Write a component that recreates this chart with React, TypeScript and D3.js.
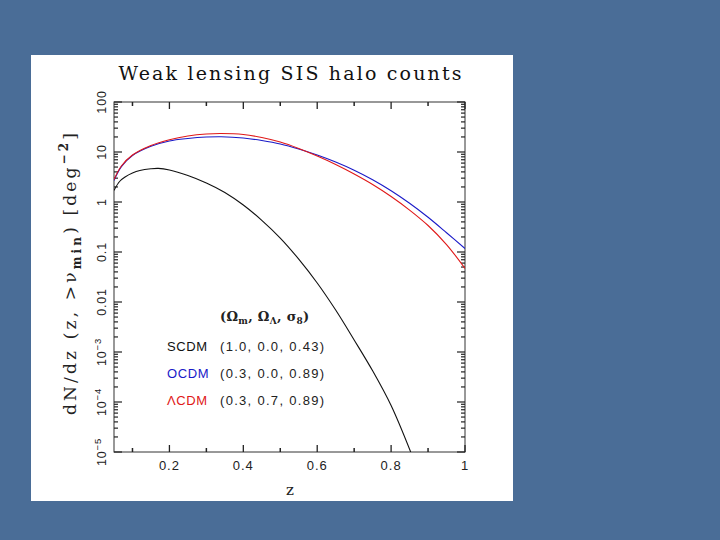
import React from "react";
import * as d3 from "d3";

const zGrid = [0.05, 0.07, 0.1, 0.15, 0.2, 0.25, 0.3, 0.34, 0.4, 0.45, 0.5, 0.55, 0.6, 0.65, 0.7, 0.75, 0.8, 0.85, 0.9, 0.95, 1.0];
const ocdm = [2.7, 5.1, 8.5, 13, 16.6, 18.6, 19.9, 20.2, 19.1, 17, 14.5, 11.5, 8.7, 6.3, 4.32, 2.79, 1.68, 0.944, 0.495, 0.243, 0.117];
const lcdm = [2.8, 5.25, 8.7, 13.5, 17.6, 20.9, 22.9, 23.4, 22.4, 19.5, 15.8, 11.75, 8.3, 5.62, 3.63, 2.24, 1.29, 0.69, 0.339, 0.141, 0.047];
const scdmZ = [0.05, 0.065, 0.08, 0.1, 0.12, 0.15, 0.17, 0.2, 0.25, 0.3, 0.35, 0.4, 0.45, 0.5, 0.55, 0.6, 0.65, 0.7, 0.75, 0.8, 0.853];
const scdm = [1.7, 2.57, 3.16, 3.8, 4.27, 4.62, 4.7, 4.37, 3.39, 2.4, 1.55, 0.87, 0.43, 0.19, 0.072, 0.024, 6.9e-3, 1.74e-3, 4.2e-4, 8.5e-5, 1e-5];

const xTicks = [0.2, 0.4, 0.6, 0.8, 1];
const xMinor = [0.1, 0.3, 0.5, 0.7, 0.9];
const yDecades = [1e-5, 1e-4, 1e-3, 0.01, 0.1, 1, 10, 100];
const yLabels: [string, string | null][] = [
  ["10", "−5"], ["10", "−4"], ["10", "−3"], ["0.01", null], ["0.1", null], ["1", null], ["10", null], ["100", null],
];

const legendNames = ["SCDM", "OCDM", "ΛCDM"];
const legendParams = ["(1.0, 0.0, 0.43)", "(0.3, 0.0, 0.89)", "(0.3, 0.7, 0.89)"];
const legendColors = ["#111111", "#1a1ac8", "#e01818"];

export default function App() {
  const L = 114, R = 465, T = 102, B = 452;
  const x = d3.scaleLinear().domain([0.05, 1]).range([L, R]);
  const y = d3.scaleLog().domain([1e-5, 100]).range([B, T]);
  const line = d3
    .line<[number, number]>()
    .x((d) => x(d[0]))
    .y((d) => y(d[1]))
    .curve(d3.curveCatmullRom.alpha(0.5));

  const minorY: number[] = [];
  for (let i = 0; i < yDecades.length - 1; i++) {
    for (let k = 2; k <= 9; k++) minorY.push(yDecades[i] * k);
  }

  const sans = "'Liberation Sans', Arial, sans-serif";
  const serif = "'DejaVu Serif', 'Liberation Serif', serif";

  return (
    <svg width={720} height={540} style={{ position: "absolute", left: 0, top: 0 }}>
      <rect x={0} y={0} width={720} height={540} fill="#4a6d97" />
      <rect x={31} y={55} width={482} height={446} fill="#ffffff" />
      <text x={290} y={80} fontFamily={serif} fontSize={19} textAnchor="middle" textLength={343} lengthAdjust="spacing" fill="#111">
        Weak lensing SIS halo counts
      </text>
      {/* frame */}
      <rect x={L} y={T} width={R - L} height={B - T} fill="none" stroke="#333" strokeWidth={1} />
      {/* x ticks */}
      {xTicks.map((t) => (
        <g key={"xt" + t}>
          <line x1={x(t)} x2={x(t)} y1={B} y2={B - 7} stroke="#222" strokeWidth={1.3} />
          <line x1={x(t)} x2={x(t)} y1={T} y2={T + 7} stroke="#222" strokeWidth={1.3} />
          <text x={x(t)} y={470} fontFamily={sans} fontSize={13} textAnchor="middle" letterSpacing={1} fill="#222">
            {String(t)}
          </text>
        </g>
      ))}
      {xMinor.map((t) => (
        <g key={"xm" + t}>
          <line x1={x(t)} x2={x(t)} y1={B} y2={B - 4} stroke="#222" strokeWidth={1.5} />
          <line x1={x(t)} x2={x(t)} y1={T} y2={T + 4} stroke="#222" strokeWidth={1.5} />
        </g>
      ))}
      {/* y ticks */}
      {yDecades.map((t, i) => (
        <g key={"yt" + i}>
          <line x1={L} x2={L + 8} y1={y(t)} y2={y(t)} stroke="#222" strokeWidth={1.2} />
          <line x1={R} x2={R - 8} y1={y(t)} y2={y(t)} stroke="#222" strokeWidth={1.2} />
          <text
            transform={`translate(106,${y(t)}) rotate(-90)`}
            fontFamily={sans}
            fontSize={12.5}
            textAnchor="middle"
            letterSpacing={0.8}
            fill="#222"
          >
            {yLabels[i][0]}
            {yLabels[i][1] && (
              <tspan dy={-5} fontSize={9.5}>
                {yLabels[i][1]}
              </tspan>
            )}
          </text>
        </g>
      ))}
      {minorY.map((t, i) => (
        <g key={"ym" + i}>
          <line x1={L} x2={L + 4} y1={y(t)} y2={y(t)} stroke="#222" strokeWidth={1.2} />
          <line x1={R} x2={R - 4} y1={y(t)} y2={y(t)} stroke="#222" strokeWidth={1.2} />
        </g>
      ))}
      {/* axis titles */}
      <text x={290} y={495} fontFamily={serif} fontSize={15} textAnchor="middle" fill="#222">
        z
      </text>
      <text transform="translate(76,274) rotate(-90)" fontFamily={serif} fontSize={17} textAnchor="middle" fill="#222" textLength={282} lengthAdjust="spacing">
        dN/dz (z, &gt;ν
        <tspan dy={5} fontSize={12} fontWeight="bold">min</tspan>
        <tspan dy={-5}>) [deg</tspan>
        <tspan dy={-8} fontSize={12} fontWeight="bold">−2</tspan>
        <tspan dy={8}>]</tspan>
      </text>
      {/* curves */}
      <defs>
        <clipPath id="plotclip">
          <rect x={L} y={T} width={R - L} height={B - T} />
        </clipPath>
      </defs>
      <g clipPath="url(#plotclip)" fill="none" strokeWidth={1.1}>
        <path d={line(scdmZ.map((z, i) => [z, scdm[i]]) as [number, number][]) || ""} stroke={legendColors[0]} />
        <path d={line(zGrid.map((z, i) => [z, ocdm[i]]) as [number, number][]) || ""} stroke={legendColors[1]} />
        <path d={line(zGrid.map((z, i) => [z, lcdm[i]]) as [number, number][]) || ""} stroke={legendColors[2]} />
      </g>
      {/* legend */}
      <text x={220} y={321} fontFamily={serif} fontSize={13} fontWeight="bold" fill="#222" letterSpacing={0.3}>
        (Ω<tspan dy={3} fontSize={9}>m</tspan>
        <tspan dy={-3}>, Ω</tspan>
        <tspan dy={3} fontSize={9}>Λ</tspan>
        <tspan dy={-3}>, σ</tspan>
        <tspan dy={3} fontSize={9}>8</tspan>
        <tspan dy={-3}>)</tspan>
      </text>
      {legendNames.map((n, i) => (
        <g key={n}>
          <text x={167} y={351 + i * 27} fontFamily={sans} fontSize={13} fill={legendColors[i]} letterSpacing={0.6}>
            {n}
          </text>
          <text x={220} y={351 + i * 27} fontFamily={sans} fontSize={13} fill="#222" letterSpacing={1.3}>
            {legendParams[i]}
          </text>
        </g>
      ))}
    </svg>
  );
}
